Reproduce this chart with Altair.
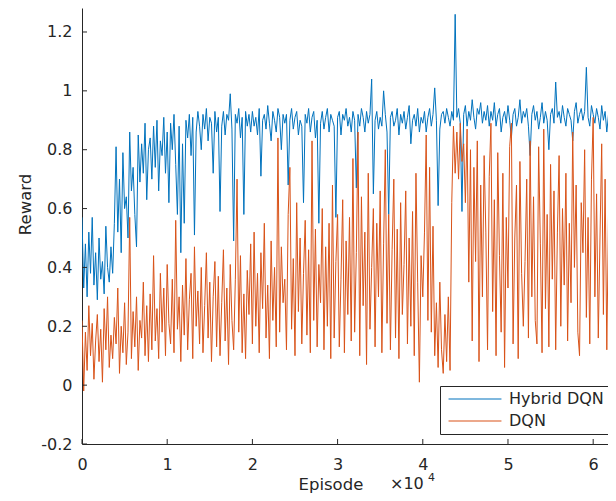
import altair as alt
import pandas as pd

EPISODE_STEP = 200

hybrid_dqn = [
    0.57, 0.33, 0.48, 0.30, 0.52, 0.38, 0.57, 0.34, 0.45, 0.29, 0.50, 0.36, 0.42, 0.31, 0.54, 0.40, 0.35, 0.47, 0.38, 0.55,
    0.81, 0.52, 0.70, 0.45, 0.79, 0.60, 0.64, 0.50, 0.86, 0.66, 0.74, 0.58, 0.47, 0.85, 0.69, 0.82, 0.72, 0.89, 0.63, 0.80,
    0.84, 0.70, 0.88, 0.74, 0.90, 0.66, 0.83, 0.78, 0.91, 0.72, 0.86, 0.62, 0.89, 0.80, 0.92, 0.75, 0.58, 0.88, 0.45, 0.82,
    0.55, 0.90, 0.84, 0.92, 0.78, 0.91, 0.51, 0.86, 0.93, 0.88, 0.80, 0.92, 0.87, 0.94, 0.83, 0.91, 0.89, 0.72, 0.93, 0.86,
    0.91, 0.59, 0.88, 0.93, 0.85, 0.92, 0.90, 0.99, 0.87, 0.49, 0.92, 0.89, 0.94, 0.84, 0.91, 0.58, 0.93, 0.88, 0.92, 0.86,
    0.93, 0.88, 0.91, 0.85, 0.94, 0.71, 0.90, 0.92, 0.87, 0.95, 0.89, 0.83, 0.93, 0.90, 0.86, 0.94, 0.91, 0.80, 0.92, 0.89,
    0.92, 0.68, 0.90, 0.94, 0.87, 0.91, 0.93, 0.85, 0.90, 0.88, 0.62, 0.92, 0.89, 0.94, 0.86, 0.91, 0.93, 0.84, 0.90, 0.55,
    0.89, 0.93, 0.87, 0.91, 0.94, 0.86, 0.92, 0.90, 0.88, 0.57, 0.91, 0.93, 0.85, 0.92, 0.90, 0.94, 0.88, 0.91, 0.86, 0.93,
    0.90, 0.67, 0.92, 0.88, 0.94, 0.91, 0.86, 0.93, 0.89, 0.92, 1.04, 0.65, 0.90, 0.93, 0.87, 0.91, 0.88, 1.00, 0.92, 0.86,
    0.58, 0.91, 0.93, 0.88, 0.90, 0.94, 0.85, 0.92, 0.89, 0.93, 0.87, 0.91, 0.95, 0.82, 0.90, 0.92, 0.88, 0.94, 0.86, 0.91,
    0.89, 0.93, 0.86, 0.91, 0.94, 0.88, 0.92, 1.01, 0.90, 0.61, 0.87, 0.92, 0.93, 0.89, 0.94, 0.91, 0.88, 0.93, 0.90, 1.26,
    0.91, 0.94, 0.89, 0.59, 0.92, 0.95, 0.88, 0.93, 0.90, 0.97, 0.91, 0.87, 0.94, 0.92, 0.96, 0.89, 0.93, 0.90, 0.95, 0.88,
    0.93, 0.90, 0.96, 0.88, 0.92, 0.94, 0.86, 0.91, 0.93, 0.89, 0.95, 0.90, 0.84, 0.92, 0.94, 0.88, 0.91, 0.97, 0.89, 0.93,
    0.91, 0.94, 0.88, 0.78, 0.92, 0.95, 0.90, 0.93, 0.87, 0.91, 0.96, 0.89, 0.93, 0.90, 0.80, 0.92, 0.94, 0.89, 1.03, 0.91,
    0.93, 0.89, 0.95, 0.91, 0.88, 0.94, 0.92, 0.90, 0.83, 0.93, 0.96, 0.89, 0.92, 0.94, 0.90, 0.93, 1.08, 0.91, 0.88, 0.95,
    0.92, 0.89, 0.94, 0.91, 0.87, 0.95, 0.90, 0.93, 0.86, 0.92, 0.94, 0.83, 0.91,
]

dqn = [
    0.22, -0.02, 0.18, 0.05, 0.27, 0.10, 0.21, 0.02, 0.15, 0.24, 0.08, 0.19, 0.01, 0.26, 0.12, 0.30, 0.06, 0.17, 0.09, 0.23,
    0.14, 0.33, 0.04, 0.20, 0.11, 0.28, 0.07, 0.18, 0.57, 0.09, 0.25, 0.13, 0.30, 0.05, 0.22, 0.16, 0.35, 0.10, 0.27, 0.08,
    0.31, 0.12, 0.44, 0.15, 0.26, 0.09, 0.38, 0.18, 0.33, 0.10, 0.41, 0.21, 0.14, 0.36, 0.11, 0.56, 0.19, 0.30, 0.08, 0.34,
    0.17, 0.43, 0.12, 0.29, 0.38, 0.09, 0.47, 0.20, 0.32, 0.14, 0.40, 0.11, 0.27, 0.45, 0.16, 0.35, 0.08, 0.30, 0.42, 0.13,
    0.37, 0.10, 0.28, 0.46, 0.15, 0.33, 0.07, 0.41, 0.22, 0.12, 0.36, 0.70, 0.18, 0.44, 0.11, 0.31, 0.09, 0.39, 0.24, 0.48,
    0.14, 0.52, 0.20, 0.38, 0.11, 0.45, 0.26, 0.55, 0.16, 0.34, 0.09, 0.49, 0.22, 0.40, 0.13, 0.84, 0.18, 0.47, 0.28, 0.36,
    0.12, 0.58, 0.74, 0.19, 0.43, 0.10, 0.62, 0.25, 0.50, 0.14, 0.38, 0.56, 0.17, 0.46, 0.11, 0.83, 0.22, 0.53, 0.13, 0.41,
    0.28, 0.60, 0.12, 0.47, 0.20, 0.55, 0.09, 0.68, 0.16, 0.42, 0.58, 0.13, 0.36, 0.63, 0.11, 0.49, 0.24, 0.57, 0.15, 0.77,
    0.18, 0.45, 0.86, 0.10, 0.64, 0.27, 0.52, 0.07, 0.72, 0.19, 0.40, 0.60, 0.13, 0.55, 0.30, 0.66, 0.11, 0.48, 0.80, 0.21,
    0.58, 0.12, 0.46, 0.70, 0.16, 0.53, 0.09, 0.62, 0.24, 0.41, 0.66, 0.14, 0.50, 0.20, 0.59, 0.10, 0.72, 0.35, 0.01, 0.44,
    0.30, 0.52, 0.85, 0.22, 0.74, 0.18, 0.54, 0.10, 0.28, 0.06, 0.35, 0.12, 0.04, 0.24, 0.08, 0.30, 0.05, 0.62, 0.88, 0.72,
    0.86, 0.70, 0.89, 0.76, 0.82, 0.62, 0.87, 0.35, 0.80, 0.15, 0.74, 0.42, 0.83, 0.08, 0.68, 0.30, 0.78, 0.52, 0.12, 0.71,
    0.89, 0.25, 0.63, 0.10, 0.79, 0.44, 0.18, 0.72, 0.06, 0.57, 0.33, 0.81, 0.89, 0.14, 0.50, 0.68, 0.09, 0.76, 0.38, 0.20,
    0.42, 0.70, 0.16, 0.83, 0.30, 0.64, 0.22, 0.14, 0.81, 0.48, 0.11, 0.87, 0.26, 0.58, 0.13, 0.75, 0.36, 0.66, 0.12, 0.52,
    0.78, 0.20, 0.60, 0.34, 0.72, 0.15, 0.55, 0.28, 0.86, 0.40, 0.68, 0.18, 0.10, 0.62, 0.45, 0.80, 0.23, 0.57, 0.14, 0.70,
    0.91, 0.30, 0.65, 0.16, 0.50, 0.82, 0.24, 0.70, 0.12, 0.58, 0.06, 0.82, 0.40,
]

SERIES = ["Hybrid DQN", "DQN"]
COLORS = ["#0072BD", "#D95319"]
X_TICKS = [0, 10000, 20000, 30000, 40000, 50000, 60000]
Y_TICKS = [-0.2, 0, 0.2, 0.4, 0.6, 0.8, 1, 1.2]
X_DOMAIN = [0, 61740]
Y_DOMAIN = [-0.2, 1.2815]

AX = "#262626"
FONT = "DejaVu Sans"
W, H = 526, 436

df_h = pd.DataFrame({
    "episode": [i * EPISODE_STEP for i in range(len(hybrid_dqn))],
    "reward": hybrid_dqn,
    "series": SERIES[0],
})
df_d = pd.DataFrame({
    "episode": [i * EPISODE_STEP for i in range(len(dqn))],
    "reward": dqn,
    "series": SERIES[1],
})

xscale = alt.Scale(domain=X_DOMAIN, nice=False, zero=False)
yscale = alt.Scale(domain=Y_DOMAIN, nice=False, zero=False)

x_axis = alt.Axis(
    values=X_TICKS, labelExpr="'' + datum.value / 10000", title="Episode",
    ticks=False, grid=False, labelPadding=12, labelFontSize=16, labelFlush=False,
    titleX=216, titleY=45, titleAlign="left", titleBaseline="alphabetic",
    titleFontSize=16.5,
)
y_axis = alt.Axis(
    values=Y_TICKS, labelExpr="'' + datum.value", title="Reward",
    ticks=False, grid=False, labelPadding=10, labelFontSize=16, labelFlush=False,
    titleX=-52, titleY=196, titleAlign="center", titleBaseline="alphabetic",
    titleFontSize=16.5,
)

legend = alt.Legend(
    title=None, orient="none", legendX=358, legendY=378,
    symbolType="M-5,0H5", symbolSize=112, symbolStrokeWidth=1.2,
    symbolOffset=22, labelOffset=26,
    labelFontSize=16, labelFont=FONT, labelColor=AX,
    strokeColor=AX, fillColor="white", padding=5, rowPadding=6,
    cornerRadius=0,
)
color = alt.Color("series:N", scale=alt.Scale(domain=SERIES, range=COLORS), legend=legend)

blue = alt.Chart(df_h).mark_line(strokeWidth=1, clip=True).encode(
    x=alt.X("episode:Q", scale=xscale, axis=x_axis),
    y=alt.Y("reward:Q", scale=yscale, axis=y_axis),
    color=color,
)
orange = alt.Chart(df_d).mark_line(strokeWidth=1, clip=True).encode(
    x=alt.X("episode:Q", scale=xscale, axis=x_axis),
    y=alt.Y("reward:Q", scale=yscale, axis=y_axis),
    color=color,
)

yticks = alt.Chart(pd.DataFrame({"v": Y_TICKS})).mark_rule(color=AX, strokeWidth=1).encode(
    y=alt.Y("v:Q", scale=yscale, axis=y_axis),
    x=alt.value(0), x2=alt.value(5),
)
xticks = alt.Chart(pd.DataFrame({"v": X_TICKS})).mark_rule(color=AX, strokeWidth=1).encode(
    x=alt.X("v:Q", scale=xscale, axis=x_axis),
    y=alt.value(H), y2=alt.value(H - 5),
)

exp_base = alt.Chart(pd.DataFrame({"t": ["\u00d710"]})).mark_text(
    align="left", baseline="alphabetic", fontSize=16, font=FONT, color=AX
).encode(x=alt.value(308), y=alt.value(481), text="t:N")
exp_sup = alt.Chart(pd.DataFrame({"t": ["4"]})).mark_text(
    align="left", baseline="alphabetic", fontSize=11, font=FONT, color=AX
).encode(x=alt.value(346), y=alt.value(473), text="t:N")

chart = alt.layer(blue, orange, yticks, xticks, exp_base, exp_sup).properties(
    width=W, height=H,
    autosize=alt.AutoSizeParams(type="none"),
    padding={"left": 74, "top": 0, "right": 0, "bottom": 49},
    background="white",
).configure_view(stroke=None).configure_axis(
    domainColor=AX, domainWidth=1, labelColor=AX, titleColor=AX,
    labelFont=FONT, titleFont=FONT, titleFontWeight="normal",
).configure_legend(labelFont=FONT)

chart.save("out.html", embed_options={"renderer": "svg", "actions": False})
